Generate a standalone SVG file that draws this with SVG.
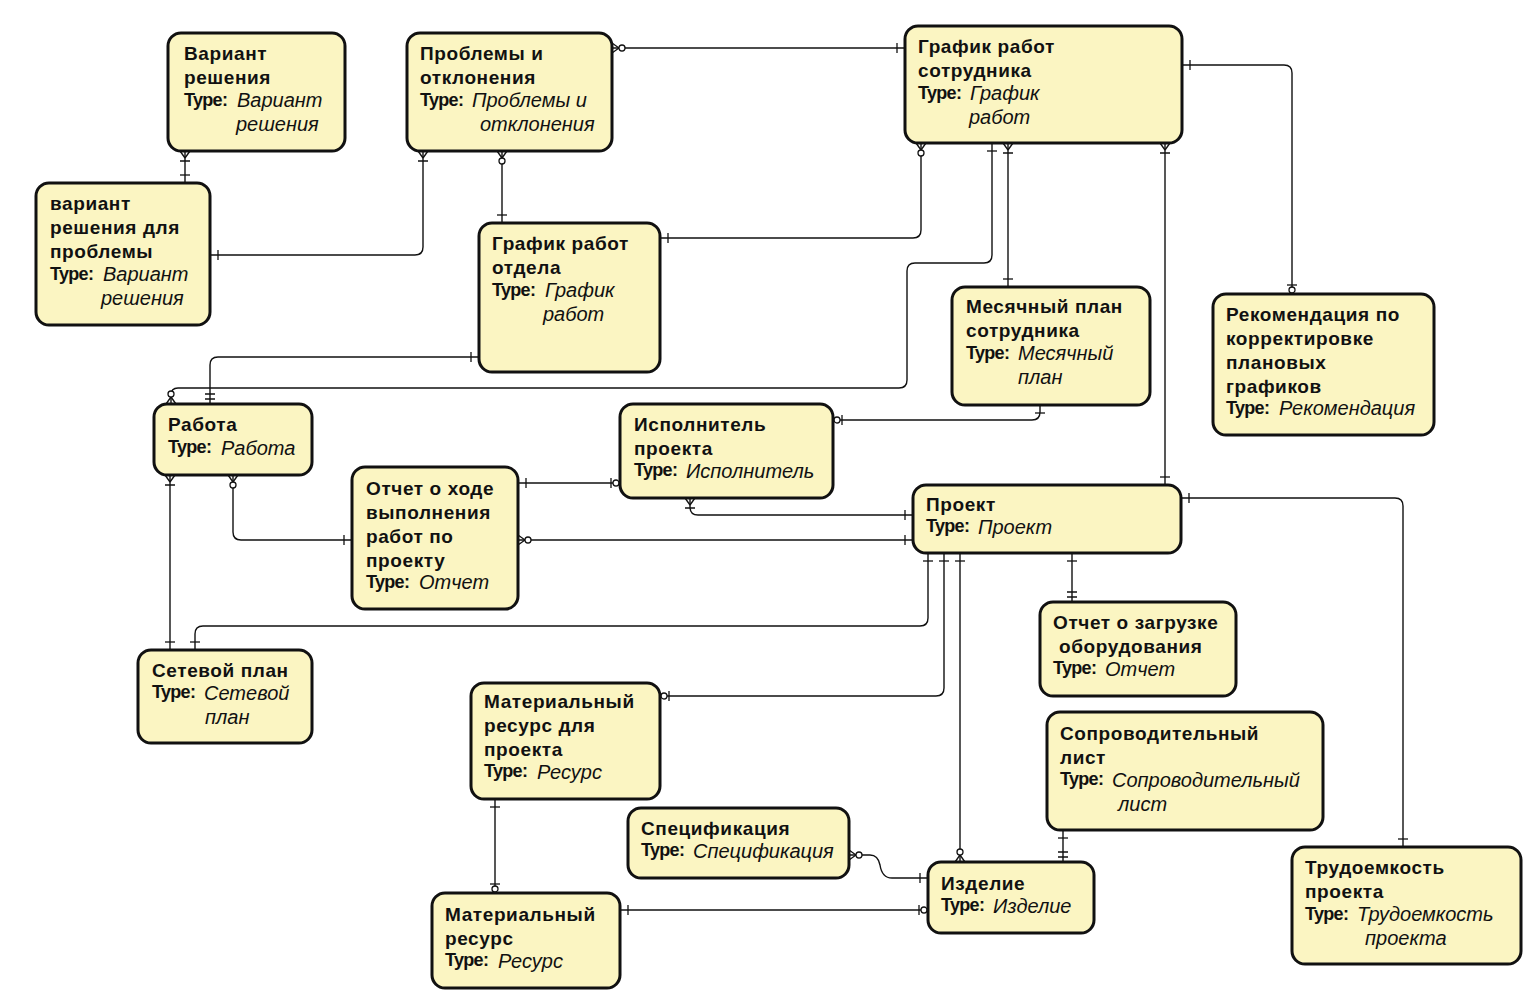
<svg xmlns="http://www.w3.org/2000/svg" width="1532" height="1000" viewBox="0 0 1532 1000">
<style>
.box{fill:#fbf5c2;stroke:#111;stroke-width:3}
.n{font-family:"Liberation Sans",Arial,sans-serif;font-weight:bold;font-size:19px;letter-spacing:0.6px;fill:#111}
.t{font-family:"Liberation Sans",Arial,sans-serif;font-weight:bold;font-size:18px;letter-spacing:-0.7px;fill:#111}
.v{font-family:"Liberation Sans",Arial,sans-serif;font-style:italic;font-size:20px;fill:#111}
.c{fill:none;stroke:#111;stroke-width:1.4}
.m{fill:none;stroke:#111;stroke-width:1.3}
.mc{fill:#fff;stroke:#111;stroke-width:1.3}
</style>
<defs>
<marker id="one" markerUnits="userSpaceOnUse" orient="auto-start-reverse" viewBox="-20 -10 30 20" markerWidth="30" markerHeight="20" refX="0" refY="0" overflow="visible"><path class="m" d="M-8,-5V5"/></marker>
<marker id="oneone" markerUnits="userSpaceOnUse" orient="auto-start-reverse" viewBox="-20 -10 30 20" markerWidth="30" markerHeight="20" refX="0" refY="0" overflow="visible"><path class="m" d="M-5,-5V5M-10,-5V5"/></marker>
<marker id="manyone" markerUnits="userSpaceOnUse" orient="auto-start-reverse" viewBox="-20 -10 30 20" markerWidth="30" markerHeight="20" refX="0" refY="0" overflow="visible"><path class="m" d="M-7,0L0,-5M-7,0L0,5M-10,-5V5"/></marker>
<marker id="manyzero" markerUnits="userSpaceOnUse" orient="auto-start-reverse" viewBox="-20 -10 30 20" markerWidth="30" markerHeight="20" refX="0" refY="0" overflow="visible"><path class="m" d="M-7,0L0,-5M-7,0L0,5"/><circle class="mc" cx="-10" cy="0" r="3"/></marker>
<marker id="zeroone" markerUnits="userSpaceOnUse" orient="auto-start-reverse" viewBox="-20 -10 30 20" markerWidth="30" markerHeight="20" refX="0" refY="0" overflow="visible"><path class="m" d="M-9,-5V5"/><circle class="mc" cx="-4" cy="0" r="3"/></marker>
</defs>

<g id="connectors">
<path class="c" d="M612,48H905" marker-start="url(#manyzero)" marker-end="url(#one)"/>
<path class="c" d="M185,151V183" marker-start="url(#manyone)" marker-end="url(#one)"/>
<path class="c" d="M423,151V247Q423,255 415,255H210" marker-start="url(#manyone)" marker-end="url(#one)"/>
<path class="c" d="M502,151V223" marker-start="url(#manyzero)" marker-end="url(#one)"/>
<path class="c" d="M921,143V230Q921,238 913,238H660" marker-start="url(#manyzero)" marker-end="url(#one)"/>
<path class="c" d="M992,143V255Q992,263 984,263H915Q907,263 907,271V380Q907,388 899,388H178Q171,388 171,395V404" marker-start="url(#one)" marker-end="url(#manyzero)"/>
<path class="c" d="M1008,143V287" marker-start="url(#manyone)" marker-end="url(#one)"/>
<path class="c" d="M1165,143V485" marker-start="url(#manyone)" marker-end="url(#one)"/>
<path class="c" d="M1182,65H1284Q1292,65 1292,73V294" marker-start="url(#one)" marker-end="url(#zeroone)"/>
<path class="c" d="M479,357H218Q210,357 210,365V404" marker-start="url(#one)" marker-end="url(#oneone)"/>
<path class="c" d="M1040,405V412Q1040,420 1032,420H833" marker-start="url(#one)" marker-end="url(#zeroone)"/>
<path class="c" d="M690,498V507Q690,515 698,515H913" marker-start="url(#manyone)" marker-end="url(#one)"/>
<path class="c" d="M518,483H620" marker-start="url(#one)" marker-end="url(#zeroone)"/>
<path class="c" d="M233,475V532Q233,540 241,540H352" marker-start="url(#manyzero)" marker-end="url(#one)"/>
<path class="c" d="M518,540H913" marker-start="url(#manyzero)" marker-end="url(#one)"/>
<path class="c" d="M170,475V650" marker-start="url(#manyone)" marker-end="url(#one)"/>
<path class="c" d="M928,553V618Q928,626 920,626H203Q195,626 195,634V650" marker-start="url(#one)" marker-end="url(#one)"/>
<path class="c" d="M944,553V688Q944,696 936,696H660" marker-start="url(#one)" marker-end="url(#zeroone)"/>
<path class="c" d="M960,553V862" marker-start="url(#one)" marker-end="url(#manyzero)"/>
<path class="c" d="M1072,553V602" marker-start="url(#one)" marker-end="url(#oneone)"/>
<path class="c" d="M1181,498H1395Q1403,498 1403,506V847" marker-start="url(#one)" marker-end="url(#one)"/>
<path class="c" d="M1063,830V862" marker-start="url(#one)" marker-end="url(#oneone)"/>
<path class="c" d="M849,855H870Q878,855 880,865Q882,878 892,878H928" marker-start="url(#manyzero)" marker-end="url(#one)"/>
<path class="c" d="M620,910H928" marker-start="url(#one)" marker-end="url(#zeroone)"/>
<path class="c" d="M495,799V893" marker-start="url(#one)" marker-end="url(#zeroone)"/>
</g>

<g id="n1"><rect class="box" x="168" y="33" width="177" height="118" rx="13"/>
<text class="n" x="184" y="60">Вариант</text><text class="n" x="184" y="84">решения</text>
<text class="t" x="184" y="106">Type:</text><text class="v" x="237" y="107">Вариант</text><text class="v" x="236" y="131">решения</text></g>

<g id="n2"><rect class="box" x="407" y="33" width="205" height="118" rx="13"/>
<text class="n" x="420" y="60">Проблемы и</text><text class="n" x="420" y="84">отклонения</text>
<text class="t" x="420" y="106">Type:</text><text class="v" x="472" y="107">Проблемы и</text><text class="v" x="480" y="131">отклонения</text></g>

<g id="n3"><rect class="box" x="905" y="26" width="277" height="117" rx="13"/>
<text class="n" x="918" y="53">График работ</text><text class="n" x="918" y="77">сотрудника</text>
<text class="t" x="918" y="99">Type:</text><text class="v" x="970" y="100">График</text><text class="v" x="969" y="124">работ</text></g>

<g id="n4"><rect class="box" x="36" y="183" width="174" height="142" rx="13"/>
<text class="n" x="50" y="210">вариант</text><text class="n" x="50" y="234">решения для</text><text class="n" x="50" y="258">проблемы</text>
<text class="t" x="50" y="280">Type:</text><text class="v" x="103" y="281">Вариант</text><text class="v" x="101" y="305">решения</text></g>

<g id="n5"><rect class="box" x="479" y="223" width="181" height="149" rx="13"/>
<text class="n" x="492" y="250">График работ</text><text class="n" x="492" y="274">отдела</text>
<text class="t" x="492" y="296">Type:</text><text class="v" x="545" y="297">График</text><text class="v" x="543" y="321">работ</text></g>

<g id="n6"><rect class="box" x="952" y="287" width="198" height="118" rx="13"/>
<text class="n" x="966" y="313">Месячный план</text><text class="n" x="966" y="337">сотрудника</text>
<text class="t" x="966" y="359">Type:</text><text class="v" x="1018" y="360">Месячный</text><text class="v" x="1018" y="384">план</text></g>

<g id="n7"><rect class="box" x="1213" y="294" width="221" height="141" rx="13"/>
<text class="n" x="1226" y="321">Рекомендация по</text><text class="n" x="1226" y="345">корректировке</text><text class="n" x="1226" y="369">плановых</text><text class="n" x="1226" y="393">графиков</text>
<text class="t" x="1226" y="414">Type:</text><text class="v" x="1279" y="415">Рекомендация</text></g>

<g id="n8"><rect class="box" x="154" y="404" width="158" height="71" rx="13"/>
<text class="n" x="168" y="431">Работа</text>
<text class="t" x="168" y="453">Type:</text><text class="v" x="221" y="455">Работа</text></g>

<g id="n9"><rect class="box" x="620" y="404" width="213" height="94" rx="13"/>
<text class="n" x="634" y="431">Исполнитель</text><text class="n" x="634" y="455">проекта</text>
<text class="t" x="634" y="476">Type:</text><text class="v" x="686" y="478">Исполнитель</text></g>

<g id="n10"><rect class="box" x="352" y="467" width="166" height="142" rx="13"/>
<text class="n" x="366" y="495">Отчет о ходе</text><text class="n" x="366" y="519">выполнения</text><text class="n" x="366" y="543">работ по</text><text class="n" x="366" y="567">проекту</text>
<text class="t" x="366" y="588">Type:</text><text class="v" x="419" y="589">Отчет</text></g>

<g id="n11"><rect class="box" x="913" y="485" width="268" height="68" rx="13"/>
<text class="n" x="926" y="511">Проект</text>
<text class="t" x="926" y="532">Type:</text><text class="v" x="978" y="534">Проект</text></g>

<g id="n12"><rect class="box" x="1040" y="602" width="196" height="94" rx="13"/>
<text class="n" x="1053" y="629">Отчет о загрузке</text><text class="n" x="1059" y="653">оборудования</text>
<text class="t" x="1053" y="674">Type:</text><text class="v" x="1105" y="676">Отчет</text></g>

<g id="n13"><rect class="box" x="138" y="650" width="174" height="93" rx="13"/>
<text class="n" x="152" y="677">Сетевой план</text>
<text class="t" x="152" y="698">Type:</text><text class="v" x="204" y="700">Сетевой</text><text class="v" x="205" y="724">план</text></g>

<g id="n14"><rect class="box" x="471" y="683" width="189" height="116" rx="13"/>
<text class="n" x="484" y="708">Материальный</text><text class="n" x="484" y="732">ресурс для</text><text class="n" x="484" y="756">проекта</text>
<text class="t" x="484" y="777">Type:</text><text class="v" x="537" y="779">Ресурс</text></g>

<g id="n15"><rect class="box" x="1047" y="712" width="276" height="118" rx="13"/>
<text class="n" x="1060" y="740">Сопроводительный</text><text class="n" x="1060" y="764">лист</text>
<text class="t" x="1060" y="785">Type:</text><text class="v" x="1112" y="787">Сопроводительный</text><text class="v" x="1118" y="811">лист</text></g>

<g id="n16"><rect class="box" x="628" y="808" width="221" height="70" rx="13"/>
<text class="n" x="641" y="835">Спецификация</text>
<text class="t" x="641" y="856">Type:</text><text class="v" x="693" y="858">Спецификация</text></g>

<g id="n17"><rect class="box" x="928" y="862" width="166" height="71" rx="13"/>
<text class="n" x="941" y="890">Изделие</text>
<text class="t" x="941" y="911">Type:</text><text class="v" x="993" y="913">Изделие</text></g>

<g id="n18"><rect class="box" x="432" y="893" width="188" height="95" rx="13"/>
<text class="n" x="445" y="921">Материальный</text><text class="n" x="445" y="945">ресурс</text>
<text class="t" x="445" y="966">Type:</text><text class="v" x="498" y="968">Ресурс</text></g>

<g id="n19"><rect class="box" x="1292" y="847" width="229" height="117" rx="13"/>
<text class="n" x="1305" y="874">Трудоемкость</text><text class="n" x="1305" y="898">проекта</text>
<text class="t" x="1305" y="920">Type:</text><text class="v" x="1357" y="921">Трудоемкость</text><text class="v" x="1365" y="945">проекта</text></g>
</svg>
